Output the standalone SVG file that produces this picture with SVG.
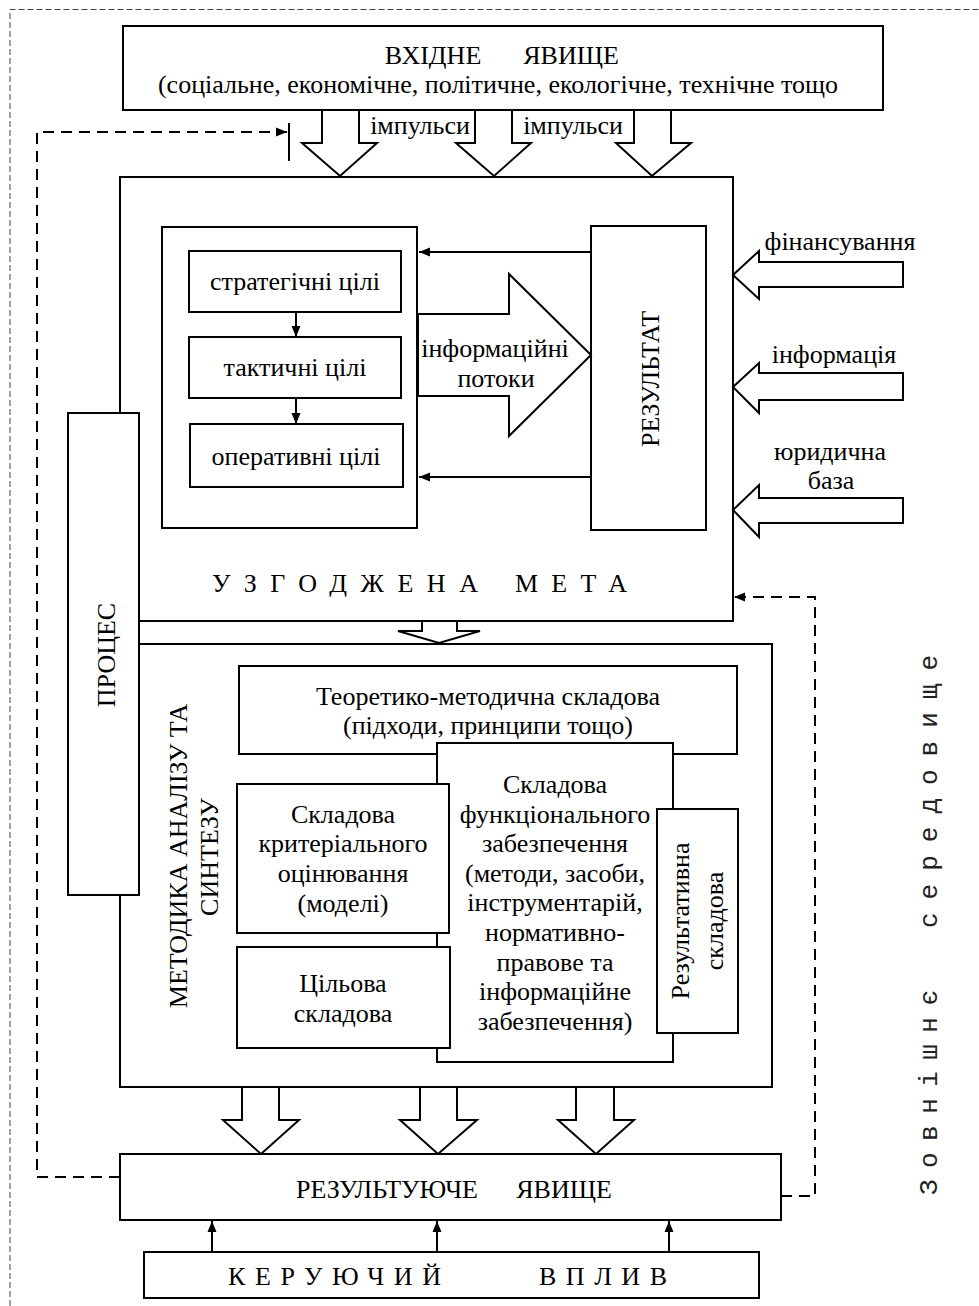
<svg xmlns="http://www.w3.org/2000/svg" width="979" height="1306" viewBox="0 0 979 1306">
<style>
.box{fill:#fff;stroke:#000;stroke-width:2}
.blk{fill:#fff;stroke:#000;stroke-width:2;stroke-linejoin:miter}
.ln{fill:none;stroke:#000;stroke-width:2}
.dash{fill:none;stroke:#000;stroke-width:2;stroke-dasharray:11 7}
.outer{fill:none;stroke:#444;stroke-width:1;stroke-dasharray:6 3}
.t{font-family:"Liberation Serif","Times New Roman",serif;font-size:26px;fill:#000}
.m{text-anchor:middle}
.mono{font-family:"Liberation Mono","Courier New",monospace;font-size:26px;fill:#222}
</style>
<defs>
<marker id="ah" markerUnits="userSpaceOnUse" markerWidth="12" markerHeight="10" refX="11" refY="5" orient="auto">
<path d="M0,0.5 L11,5 L0,9.5 z" fill="#000"/>
</marker>
</defs>

<path class="outer" d="M10,1306 V9.5 H979"/>

<g id="vhidne">
<rect class="box" x="123" y="26" width="760" height="84"/>
<text class="t m" x="433" y="64">ВХІДНЕ</text>
<text class="t m" x="571" y="64">ЯВИЩЕ</text>
<text class="t m" x="498" y="93">(соціальне, економічне, політичне, екологічне, технічне тощо</text>
</g>

<g id="meta-box">
<rect class="box" x="120" y="177" width="613" height="444"/>
<text class="t" x="212" y="592" textLength="266">УЗГОДЖЕНА</text>
<text class="t" x="515" y="592" textLength="112">МЕТА</text>
</g>

<g id="metodyka-box">
<rect class="box" x="120" y="644" width="652" height="443"/>
<text class="t m" transform="translate(187,856) rotate(-90)">МЕТОДИКА АНАЛІЗУ ТА</text>
<text class="t m" transform="translate(218,857) rotate(-90)">СИНТЕЗУ</text>
</g>

<g id="proces">
<rect class="box" x="68" y="413" width="71" height="482"/>
<text class="t m" transform="translate(115,655) rotate(-90)">ПРОЦЕС</text>
</g>

<g id="goals">
<rect class="box" x="162" y="227" width="255" height="301"/>
</g>
<g id="strategic">
<rect class="box" x="189" y="251" width="212" height="61"/>
<text class="t m" x="295" y="290">стратегічні цілі</text>
</g>
<g id="tactical">
<rect class="box" x="189" y="337" width="212" height="61"/>
<text class="t m" x="295" y="376">тактичні цілі</text>
</g>
<g id="operative">
<rect class="box" x="190" y="424" width="213" height="63"/>
<text class="t m" x="296" y="465">оперативні цілі</text>
</g>

<g id="rezultat">
<rect class="box" x="591" y="226" width="115" height="304"/>
<text class="t m" transform="translate(659,379) rotate(-90)">РЕЗУЛЬТАТ</text>
</g>

<g id="teoretyko">
<rect class="box" x="239" y="666" width="498" height="88"/>
<text class="t m" x="488" y="705">Теоретико-методична складова</text>
<text class="t m" x="488" y="734">(підходи, принципи тощо)</text>
</g>

<g id="funkc">
<rect class="box" x="437" y="743" width="236" height="319"/>
<text class="t m" x="555" y="793">Складова</text>
<text class="t m" x="555" y="822.6">функціонального</text>
<text class="t m" x="555" y="852.2">забезпечення</text>
<text class="t m" x="555" y="881.8">(методи, засоби,</text>
<text class="t m" x="555" y="911.4">інструментарій,</text>
<text class="t m" x="555" y="941">нормативно-</text>
<text class="t m" x="555" y="970.6">правове та</text>
<text class="t m" x="555" y="1000.2">інформаційне</text>
<text class="t m" x="555" y="1029.8">забезпечення)</text>
</g>

<g id="kryter">
<rect class="box" x="237" y="784" width="212" height="149"/>
<text class="t m" x="343" y="823">Складова</text>
<text class="t m" x="343" y="852">критеріального</text>
<text class="t m" x="343" y="882">оцінювання</text>
<text class="t m" x="343" y="912">(моделі)</text>
</g>

<g id="tsilova">
<rect class="box" x="237" y="947" width="213" height="101"/>
<text class="t m" x="343" y="992">Цільова</text>
<text class="t m" x="343" y="1022">складова</text>
</g>

<g id="rezultatyvna">
<rect class="box" x="657" y="809" width="81" height="224"/>
<text class="t m" transform="translate(689,921) rotate(-90)">Результативна</text>
<text class="t m" transform="translate(723,921) rotate(-90)">складова</text>
</g>

<g id="rezultuyuche">
<rect class="box" x="120" y="1154" width="661" height="66"/>
<text class="t m" x="387" y="1198">РЕЗУЛЬТУЮЧЕ</text>
<text class="t m" x="564" y="1198">ЯВИЩЕ</text>
</g>

<g id="keruyuchyi">
<rect class="box" x="144" y="1252" width="615" height="46"/>
<text class="t" x="228" y="1285" textLength="213">КЕРУЮЧИЙ</text>
<text class="t" x="539" y="1285" textLength="128">ВПЛИВ</text>
</g>

<g id="connectors">
<polygon class="blk" points="322,110 359,110 359,143 377,143 340,176 302,143 322,143"/>
<polygon class="blk" points="475,110 512,110 512,143 531,143 494,176 456,143 475,143"/>
<polygon class="blk" points="634,110 671,110 671,143 691,143 652,176 616,143 634,143"/>
<polygon class="blk" points="418,314 509,314 509,274 591,355 509,436 509,396 418,396"/>
<polygon class="blk" points="733,275 759,251 759,262 903,262 903,287 759,287 759,299"/>
<polygon class="blk" points="733,387 759,363 759,373 903,373 903,400 759,400 759,413"/>
<polygon class="blk" points="733,510 759,485 759,498 903,498 903,523 759,523 759,537"/>
<polygon class="blk" points="422,621 457,621 457,631 480,631 439,643 398,631 422,631"/>
<polygon class="blk" points="242,1087 279,1087 279,1120 299,1120 261,1154 223,1120 242,1120"/>
<polygon class="blk" points="420,1087 457,1087 457,1120 477,1120 438,1154 400,1120 420,1120"/>
<polygon class="blk" points="576,1087 614,1087 614,1120 634,1120 596,1154 558,1120 576,1120"/>
<line class="ln" x1="296" y1="312" x2="296" y2="337" marker-end="url(#ah)"/>
<line class="ln" x1="296" y1="398" x2="296" y2="424" marker-end="url(#ah)"/>
<line class="ln" x1="591" y1="252" x2="419" y2="252" marker-end="url(#ah)"/>
<line class="ln" x1="591" y1="477" x2="419" y2="477" marker-end="url(#ah)"/>
<line class="ln" x1="212" y1="1252" x2="212" y2="1221" marker-end="url(#ah)"/>
<line class="ln" x1="437" y1="1252" x2="437" y2="1221" marker-end="url(#ah)"/>
<line class="ln" x1="669" y1="1252" x2="669" y2="1221" marker-end="url(#ah)"/>
<path class="dash" d="M120,1177 H37 V132 H287" marker-end="url(#ah)"/>
<line class="ln" x1="289" y1="123" x2="289" y2="161"/>
<path class="dash" d="M781,1196 H815 V597 H734" marker-end="url(#ah)"/>
</g>

<g id="labels">
<text class="t m" x="420" y="134">імпульси</text>
<text class="t m" x="573" y="134">імпульси</text>
<text class="t m" x="840" y="250">фінансування</text>
<text class="t m" x="834" y="363">інформація</text>
<text class="t m" x="830" y="460">юридична</text>
<text class="t m" x="831" y="489">база</text>
<text class="t m" x="495" y="357">інформаційні</text>
<text class="t m" x="496" y="387">потоки</text>
<text class="mono" transform="translate(937,1195) rotate(-90)" textLength="205">Зовнішнє</text>
<text class="mono" transform="translate(937,928) rotate(-90)" textLength="273">середовище</text>
</g>
</svg>
